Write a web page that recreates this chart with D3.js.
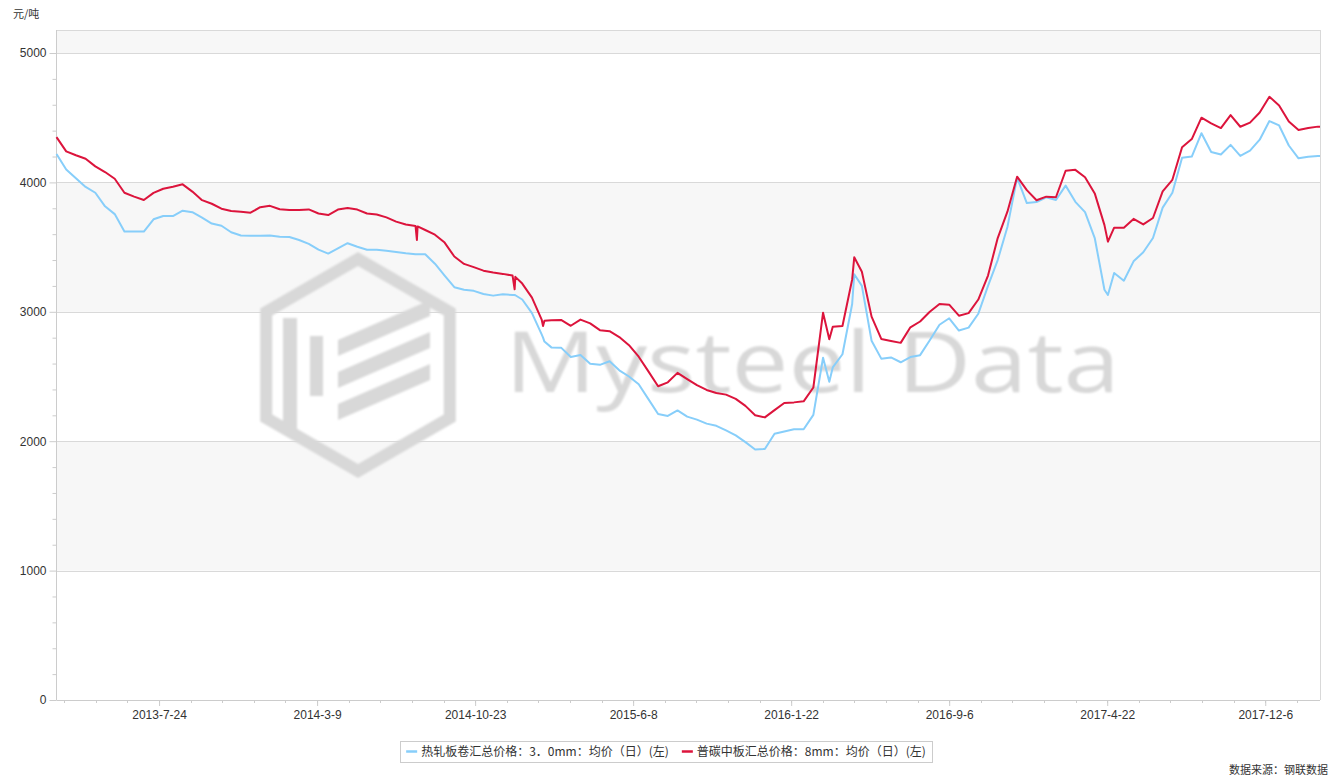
<!DOCTYPE html>
<html><head><meta charset="utf-8">
<script src="https://cdn.jsdelivr.net/npm/d3@7"></script>
<style>body{margin:0;background:#fff;} svg{display:block;font-family:"Microsoft YaHei","Noto Sans CJK SC","Noto Sans",sans-serif;}</style>
</head><body><svg id="c" width="1334" height="777"></svg>
<script>
const dates=["2013-02-26","2013-03-12","2013-03-26","2013-04-09","2013-04-23","2013-05-07","2013-05-21","2013-06-04","2013-06-18","2013-07-02",
"2013-07-16","2013-07-30","2013-08-13","2013-08-27","2013-09-10","2013-09-24","2013-10-08","2013-10-22","2013-11-05","2013-11-19",
"2013-12-03","2013-12-17","2013-12-31","2014-01-14","2014-01-28","2014-02-11","2014-02-25","2014-03-11","2014-03-25","2014-04-08",
"2014-04-22","2014-05-06","2014-05-20","2014-06-03","2014-06-17","2014-07-01","2014-07-15","2014-07-29","2014-07-31","2014-08-01",
"2014-08-12","2014-08-26","2014-09-09","2014-09-23","2014-10-07","2014-10-21","2014-11-04","2014-11-18","2014-12-02","2014-12-16",
"2014-12-19","2014-12-20","2014-12-30","2015-01-13","2015-01-27","2015-01-29","2015-01-31",
"2015-02-10","2015-02-24","2015-03-10","2015-03-24","2015-04-07","2015-04-21","2015-05-05","2015-05-19","2015-06-02",
"2015-06-16","2015-06-30","2015-07-14","2015-07-28","2015-08-11","2015-08-25","2015-09-08","2015-09-22","2015-10-06","2015-10-20",
"2015-11-03","2015-11-17","2015-12-01","2015-12-15","2015-12-29","2016-01-12","2016-01-26","2016-02-09","2016-02-23","2016-03-08",
"2016-03-17","2016-03-22","2016-04-05","2016-04-19","2016-04-22",
"2016-05-03","2016-05-17","2016-05-31","2016-06-14","2016-06-28","2016-07-12","2016-07-26",
"2016-08-09","2016-08-23","2016-09-06","2016-09-20","2016-10-04","2016-10-18","2016-11-01","2016-11-15","2016-11-29","2016-12-13",
"2016-12-27","2017-01-10","2017-01-24","2017-02-07","2017-02-21","2017-03-07","2017-03-21","2017-04-04","2017-04-18","2017-04-23",
"2017-05-02","2017-05-16","2017-05-30","2017-06-13","2017-06-27","2017-07-11","2017-07-25","2017-08-08","2017-08-22","2017-09-05",
"2017-09-19","2017-10-03","2017-10-17","2017-10-31","2017-11-14","2017-11-28","2017-12-12","2017-12-26","2018-01-09","2018-01-23","2018-02-06","2018-02-20","2018-02-23"];

const plateValues=[4350,4240,4210,4183,4124,4080,4028,3920,3890,3864,
3919,3951,3967,3985,3929,3863,3835,3797,3779,3773,
3766,3808,3819,3792,3787,3787,3791,3760,3748,3790,
3802,3790,3760,3752,3730,3697,3675,3663,3555,3660,
3632,3596,3535,3427,3370,3345,3318,3304,3293,3280,
3174,3270,3218,3110,2940,2890,2930,
2935,2937,2892,2940,2910,2858,2850,2805,2742,
2653,2540,2425,2455,2528,2480,2433,2396,2372,2360,
2327,2273,2201,2184,2240,2295,2300,2308,2415,2993,
2788,2885,2890,3250,3421,
3310,2963,2790,2775,2760,2880,2925,
3000,3060,3055,2970,2990,3095,3280,3570,3774,4044,
3940,3862,3890,3885,4090,4097,4040,3915,3670,3542,
3650,3650,3718,3675,3725,3930,4020,4272,4335,4500,
4456,4420,4520,4430,4462,4540,4662,4595,4470,4405,4420,4431,4431];

const hotValues=[4220,4100,4032,3965,3920,3815,3755,3620,3620,3620,
3715,3740,3740,3781,3770,3728,3682,3665,3615,3590,
3587,3587,3590,3580,3578,3555,3525,3480,3450,3490,
3530,3503,3480,3479,3471,3462,3452,3445,3445,3445,
3445,3372,3280,3190,3170,3162,3137,3125,3135,3130,
3130,3128,3095,2990,2825,2800,2770,
2725,2723,2650,2666,2598,2590,2618,2548,2500,
2440,2325,2210,2195,2238,2190,2167,2136,2119,2083,
2045,1993,1936,1940,2057,2075,2092,2092,2203,2645,
2460,2570,2672,3060,3290,
3200,2776,2638,2647,2610,2650,2665,
2780,2900,2950,2855,2878,2985,3200,3400,3655,4037,
3840,3848,3885,3864,3975,3850,3770,3570,3170,3130,
3300,3240,3390,3460,3570,3805,3920,4190,4200,4380,
4235,4215,4290,4205,4245,4330,4474,4440,4285,4186,4199,4204,4204];

const xTickLabels=["2013-7-24","2014-3-9","2014-10-23","2015-6-8","2016-1-22","2016-9-6","2017-4-22","2017-12-6"];
const yTickValues=[0,1000,2000,3000,4000,5000];
const seriesNames=["热轧板卷汇总价格：3．0mm：均价（日）(左)","普碳中板汇总价格：8mm：均价（日）(左)"];
const seriesColors=["#87cefa","#dc143c"];
const unitLabel="元/吨";
const sourceLabel="数据来源：钢联数据";
const watermarkText="Mysteel Data";
const xDomain=["2013-02-26","2018-02-23"];

const parse=d3.timeParse("%Y-%m-%d");
const parseTick=d3.timeParse("%Y-%-m-%-d");
const svg=d3.select("#c");
const L=56.5,R=1320,T=30,B=700;
const x=d3.scaleTime().domain(xDomain.map(parse)).range([L,R]);
const y=d3.scaleLinear().domain([0,5000]).range([B,53]);

const defs=svg.append("defs");
defs.append("filter").attr("id","blur").append("feGaussianBlur").attr("stdDeviation",0.9);

// bands
const bandG=svg.append("g");
[1000,3000,5000].forEach(v=>{
  const y0=y(v), y1=Math.max(y(v+1000),T);
  bandG.append("rect").attr("x",L).attr("y",y1).attr("width",R-L).attr("height",y0-y1).attr("fill","#f7f7f7");
});
// grid
svg.append("g").selectAll("line").data(yTickValues.filter(d=>d>0)).join("line")
  .attr("x1",L).attr("x2",R).attr("y1",d=>Math.round(y(d))+0.5).attr("y2",d=>Math.round(y(d))+0.5)
  .attr("stroke","#d9d9d9").attr("stroke-width",1);
// frame top/right
svg.append("line").attr("x1",L).attr("x2",R).attr("y1",T+0.5).attr("y2",T+0.5).attr("stroke","#d9d9d9");
svg.append("line").attr("x1",R+0.5).attr("x2",R+0.5).attr("y1",T).attr("y2",B).attr("stroke","#d9d9d9");

// watermark
const wm=svg.append("g").attr("fill","#d8d8d8").attr("stroke","none").attr("filter","url(#blur)");
(function(){
  const cx=358,cy=365,Rr=106;
  const pts=d3.range(6).map(i=>{const a=Math.PI/180*(60*i-90);return [cx+Rr*Math.cos(a),cy+Rr*Math.sin(a)];});
  wm.append("polygon").attr("points",pts.map(p=>p.join(",")).join(" ")).attr("fill","none").attr("stroke","#d8d8d8").attr("stroke-width",12);
  wm.append("rect").attr("x",283).attr("y",318).attr("width",14).attr("height",112);
  wm.append("rect").attr("x",310).attr("y",336).attr("width",13).attr("height",60);
  wm.append("polygon").attr("points","338,340 430,300 430,316 338,356");
  wm.append("polygon").attr("points","338,372 430,332 430,348 338,388");
  wm.append("polygon").attr("points","338,404 430,364 430,380 338,420");
  wm.append("text").attr("x",505).attr("y",392).attr("font-family","'Open Sans','Noto Sans',sans-serif")
    .attr("font-size",84).attr("textLength",615).attr("lengthAdjust","spacingAndGlyphs").text(watermarkText);
})();

// axes lines
svg.append("line").attr("x1",L).attr("x2",L).attr("y1",T).attr("y2",B).attr("stroke","#cccccc");
svg.append("line").attr("x1",L).attr("x2",R).attr("y1",B+0.5).attr("y2",B+0.5).attr("stroke","#cccccc");

// y axis
const yAxis=d3.axisLeft(y).tickValues(yTickValues).tickSize(7).tickPadding(3).tickFormat(d3.format("d"));
const gy=svg.append("g").attr("transform",`translate(${L},0)`).call(yAxis);
gy.select(".domain").remove();
gy.selectAll(".tick line").attr("stroke","#cccccc");
gy.selectAll(".tick text").attr("fill","#333").attr("font-size",12);
const yMinor=d3.axisLeft(y).tickValues(d3.range(200,5000,200).filter(v=>v%1000!==0)).tickSize(4).tickFormat("");
const gym=svg.append("g").attr("transform",`translate(${L},0)`).call(yMinor);
gym.select(".domain").remove(); gym.selectAll(".tick line").attr("stroke","#cccccc");

// x axis
const tickDates=xTickLabels.map(parseTick);
const xAxis=d3.axisBottom(x).tickValues(tickDates).tickSize(6).tickPadding(4).tickFormat(d3.timeFormat("%Y-%-m-%-d"));
const gx=svg.append("g").attr("transform",`translate(0,${B})`).call(xAxis);
gx.select(".domain").remove();
gx.selectAll(".tick line").attr("stroke","#cccccc");
gx.selectAll(".tick text").attr("fill","#333").attr("font-size",12);
const step=(x(tickDates[1])-x(tickDates[0]))/5;
const minorX=[];
for(let p=x(tickDates[0]);p>L;p-=step) minorX.push(p);
for(let p=x(tickDates[0])+step;p<R;p+=step) minorX.push(p);
svg.append("g").selectAll("line").data(minorX).join("line")
  .attr("x1",d=>Math.round(d)+0.5).attr("x2",d=>Math.round(d)+0.5).attr("y1",B).attr("y2",B+3).attr("stroke","#cccccc");

// lines
const series=[hotValues,plateValues];
const line=d3.line().x((d,i)=>x(parse(dates[i]))).y(d=>y(d));
series.forEach((vals,i)=>{
  svg.append("path").datum(vals).attr("d",line).attr("fill","none")
    .attr("stroke",seriesColors[i]).attr("stroke-width",2).attr("stroke-linejoin","round");
});

// legend
const lg=svg.append("g");
const box=lg.append("rect").attr("y",741.5).attr("height",21).attr("fill","#fff").attr("stroke","#cccccc");
const items=[];
seriesNames.forEach((n,i)=>{
  const g=lg.append("g");
  g.append("line").attr("x1",0).attr("x2",11).attr("y1",751.5).attr("y2",751.5).attr("stroke",seriesColors[i]).attr("stroke-width",2.5);
  const t=g.append("text").attr("x",15).attr("y",756).attr("font-size",12).attr("fill","#333").text(n);
  const w=15+t.node().getComputedTextLength();
  items.push({g,w});
});
const gap=13,pad=6;
const total=items.reduce((a,b)=>a+b.w,0)+gap*(items.length-1)+pad*2;
const startX=666-total/2;
let px=startX+pad;
items.forEach(it=>{it.g.attr("transform",`translate(${px},0)`);px+=it.w+gap;});
box.attr("x",Math.round(startX)+0.5).attr("width",Math.round(total));

svg.append("text").attr("x",13).attr("y",18).attr("font-size",11).attr("fill","#333").text(unitLabel);
svg.append("text").attr("x",1328).attr("y",774).attr("text-anchor","end").attr("font-size",11).attr("fill","#333").text(sourceLabel);
</script></body></html>
